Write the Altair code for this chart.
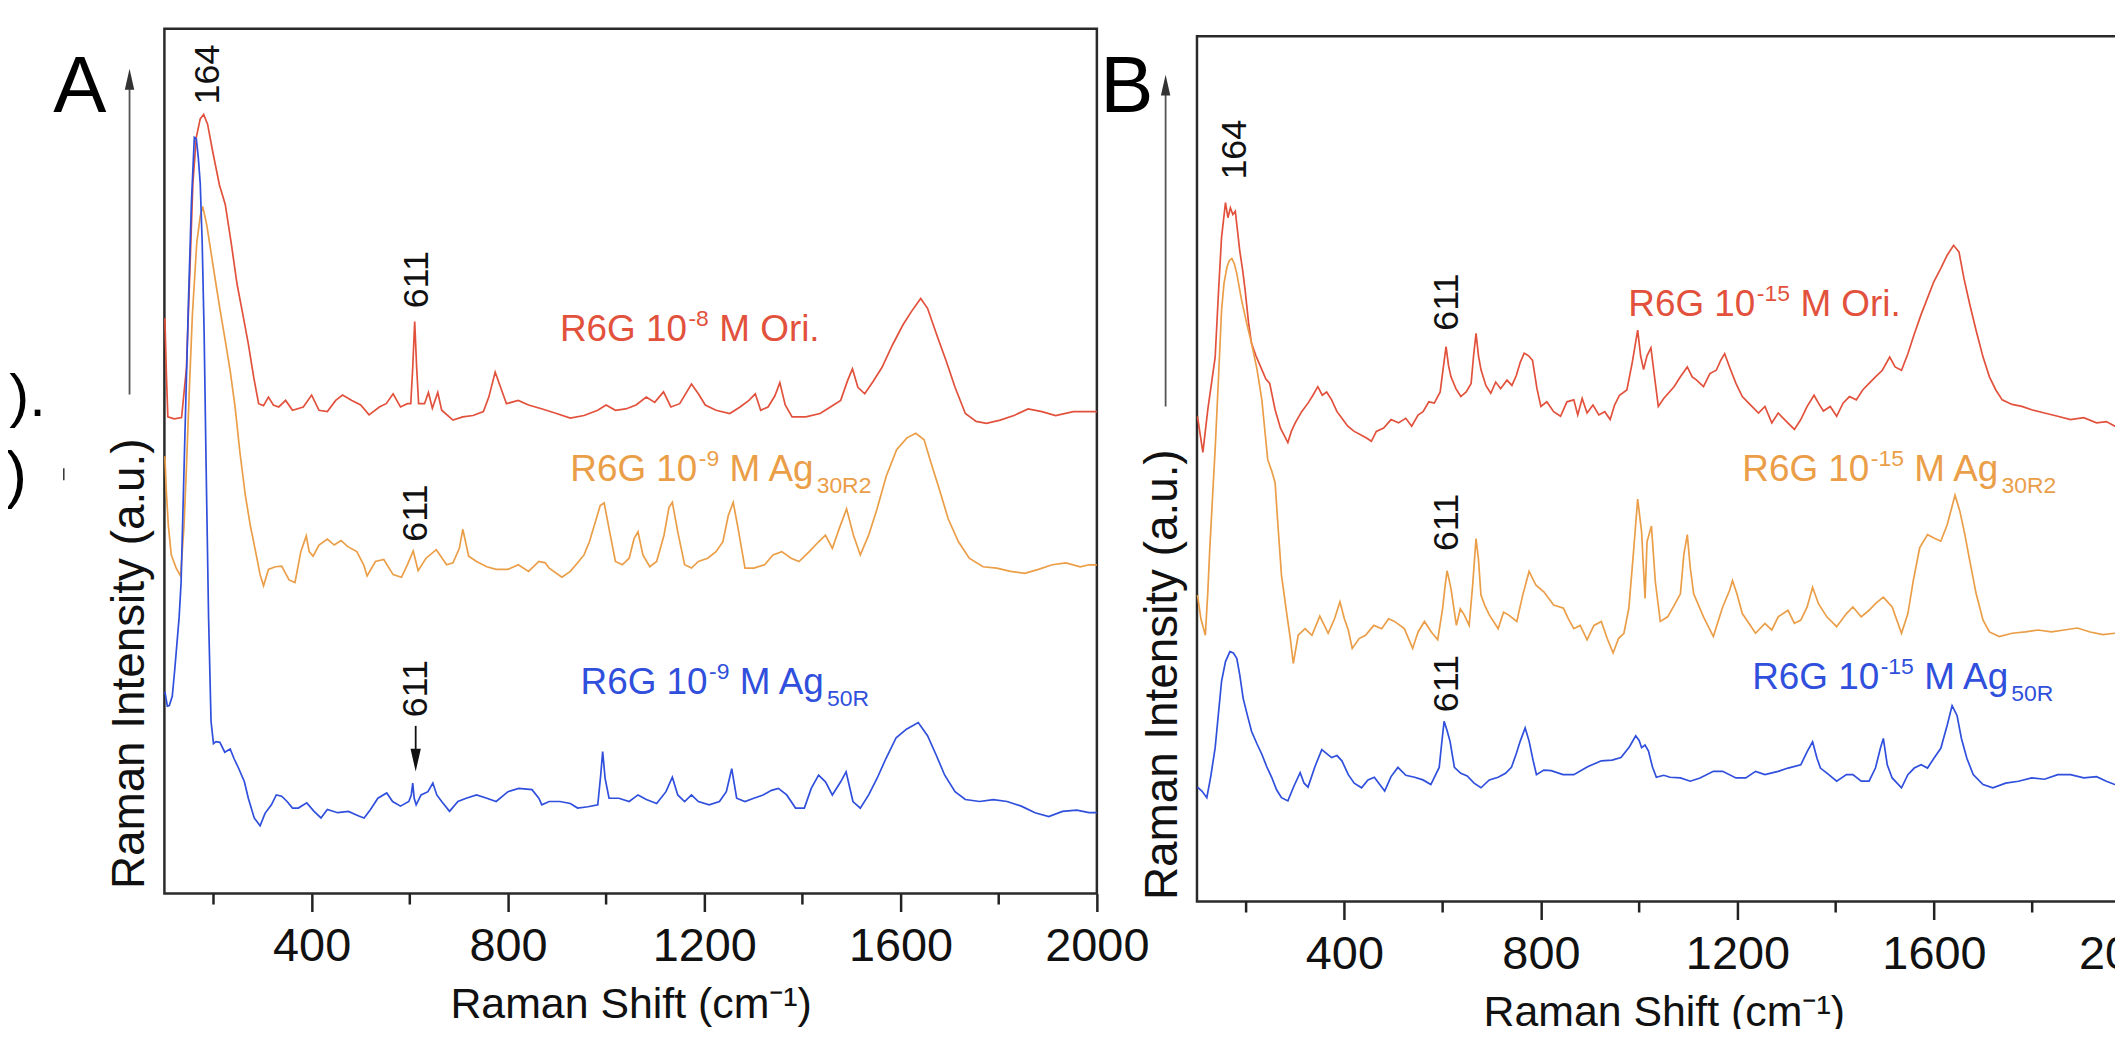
import altair as alt
import pandas as pd

FONT = "Liberation Sans"
INK = "#222222"
FRAME = "#2a2a2a"
SERIES = ["Ori", "Ag30R2", "Ag50R"]
COLORS = ["#e2513c", "#eb9e48", "#2f4fdc"]
X_DOMAIN = [100, 2000]
MAJOR_TICKS = [400, 800, 1200, 1600, 2000]
MINOR_TICKS = [200, 600, 1000, 1400, 1800]

# ---------------- Panel A spectra (Raman shift cm-1, intensity a.u.) ----------------
A_ORI = [(101, 875), (104, 790), (107, 725), (120, 722), (135, 724), (145, 800), (152, 950), (158, 1080),
         (165, 1150), (173, 1178), (180, 1185), (188, 1170), (198, 1130), (212, 1078), (224, 1048), (236, 990),
         (248, 927), (260, 880), (271, 836), (282, 785), (292, 745), (302, 742), (312, 755), (322, 743),
         (333, 740), (347, 750), (361, 735), (383, 740), (400, 758), (415, 735), (432, 733), (449, 750),
         (463, 758), (482, 750), (500, 743), (517, 728), (538, 740), (552, 745), (566, 760), (581, 740),
         (595, 745), (602, 745), (606, 800), (610, 870), (614, 800), (618, 745), (630, 745), (638, 762),
         (646, 738), (657, 762), (665, 735), (688, 720), (708, 725), (729, 727), (750, 733), (761, 755),
         (774, 793), (785, 770), (797, 745), (821, 750), (842, 743), (870, 737), (899, 730), (927, 723),
         (955, 727), (983, 735), (1000, 743), (1019, 735), (1040, 737), (1061, 743), (1082, 755), (1099, 747),
         (1117, 763), (1132, 740), (1150, 745), (1174, 775), (1188, 760), (1202, 743), (1224, 735), (1252, 730),
         (1273, 740), (1291, 750), (1304, 760), (1315, 735), (1330, 740), (1344, 757), (1354, 777), (1365, 743),
         (1379, 725), (1407, 725), (1436, 730), (1457, 740), (1478, 750), (1492, 780), (1502, 798), (1513, 770),
         (1527, 760), (1545, 780), (1562, 800), (1584, 835), (1605, 865), (1622, 885), (1641, 905), (1655, 890),
         (1676, 845), (1693, 810), (1711, 770), (1732, 730), (1754, 718), (1775, 715), (1803, 720), (1831, 727),
         (1860, 737), (1888, 733), (1916, 727), (1952, 733), (1984, 733), (2000, 733)]

A_AG30 = [(101, 665), (104, 610), (108, 560), (114, 515), (124, 495), (133, 483), (140, 560), (145, 650),
          (151, 770), (157, 880), (166, 990), (173, 1030), (178, 1045), (186, 1018), (195, 975), (205, 927),
          (214, 885), (224, 841), (234, 795), (244, 740), (254, 670), (265, 605), (275, 560), (285, 523),
          (295, 485), (302, 468), (312, 493), (326, 497), (339, 498), (354, 477), (366, 473), (378, 520),
          (389, 544), (395, 520), (403, 513), (415, 530), (432, 539), (446, 530), (460, 537), (473, 528),
          (492, 520), (506, 500), (513, 483), (530, 505), (547, 508), (566, 485), (583, 481), (595, 500),
          (607, 521), (617, 491), (633, 510), (654, 523), (675, 500), (688, 503), (701, 525), (708, 554),
          (720, 513), (736, 505), (757, 497), (776, 493), (800, 493), (821, 500), (842, 490), (863, 505),
          (876, 503), (884, 495), (910, 481), (927, 490), (942, 503), (955, 515), (966, 535), (980, 570),
          (988, 590), (996, 594), (1006, 555), (1019, 505), (1033, 500), (1047, 510), (1057, 540), (1065, 550),
          (1075, 515), (1089, 497), (1103, 505), (1118, 545), (1128, 587), (1135, 595), (1146, 550), (1160, 500),
          (1174, 495), (1188, 505), (1207, 510), (1224, 520), (1238, 535), (1249, 575), (1259, 595), (1269, 555),
          (1283, 495), (1301, 495), (1323, 500), (1340, 515), (1358, 520), (1377, 510), (1393, 505), (1414, 520),
          (1433, 535), (1447, 545), (1461, 525), (1475, 555), (1490, 585), (1504, 545), (1518, 515), (1535, 545),
          (1552, 585), (1571, 635), (1592, 675), (1613, 693), (1631, 700), (1648, 690), (1662, 655), (1679, 615),
          (1697, 570), (1718, 535), (1740, 510), (1768, 497), (1796, 495), (1824, 490), (1853, 487), (1881, 493),
          (1909, 500), (1937, 503), (1966, 497), (1984, 500), (2000, 500)]

A_AG50 = [(101, 307), (106, 285), (110, 286), (116, 300), (121, 340), (130, 420), (134, 473), (141, 675),
          (149, 900), (155, 1050), (161, 1150), (165, 1148), (169, 1120), (173, 1080), (177, 990), (181, 850),
          (185, 650), (190, 420), (195, 262), (200, 228), (205, 231), (213, 230), (223, 215), (234, 220),
          (242, 205), (251, 191), (263, 170), (271, 145), (283, 115), (295, 103), (305, 122), (318, 135),
          (328, 150), (339, 148), (350, 140), (361, 130), (373, 130), (390, 138), (405, 125), (419, 115),
          (432, 128), (453, 123), (475, 125), (496, 118), (507, 115), (520, 128), (535, 145), (553, 153),
          (565, 140), (581, 133), (598, 140), (603, 150), (606, 168), (609, 145), (613, 135), (623, 150),
          (637, 155), (647, 168), (655, 150), (665, 140), (681, 125), (698, 140), (715, 145), (736, 150),
          (757, 145), (776, 140), (800, 155), (822, 160), (849, 158), (863, 145), (869, 135), (884, 140),
          (906, 140), (927, 137), (942, 130), (963, 132), (983, 135), (989, 180), (993, 216), (998, 175),
          (1006, 145), (1026, 145), (1047, 140), (1065, 150), (1082, 143), (1103, 137), (1122, 155), (1135, 177),
          (1146, 150), (1160, 140), (1174, 150), (1188, 140), (1210, 135), (1231, 140), (1245, 155), (1256, 190),
          (1266, 145), (1283, 140), (1301, 145), (1320, 150), (1337, 157), (1351, 160), (1368, 150), (1386, 130),
          (1404, 130), (1418, 160), (1433, 180), (1447, 170), (1461, 150), (1478, 170), (1489, 185), (1503, 140),
          (1518, 130), (1535, 150), (1552, 175), (1570, 205), (1591, 237), (1612, 250), (1636, 260), (1655, 240),
          (1673, 210), (1690, 180), (1711, 155), (1732, 143), (1761, 140), (1789, 143), (1817, 140), (1846, 133),
          (1874, 123), (1902, 117), (1930, 125), (1959, 127), (1984, 123), (2000, 123)]

# ---------------- Panel B spectra ----------------
B_ORI = [(101, 738), (112, 683), (122, 748), (137, 828), (144, 930), (150, 1010), (158, 1063), (163, 1040),
         (168, 1055), (173, 1045), (178, 1050), (187, 990), (193, 960), (198, 930), (205, 880), (211, 849),
         (220, 830), (232, 809), (240, 795), (248, 788), (259, 748), (270, 720), (285, 698), (292, 715),
         (300, 728), (313, 745), (326, 758), (336, 770), (346, 783), (355, 770), (364, 775), (374, 763),
         (385, 745), (395, 735), (407, 723), (420, 715), (433, 710), (445, 705), (455, 700), (465, 715),
         (480, 720), (495, 733), (510, 728), (525, 735), (537, 723), (550, 740), (560, 745), (572, 760),
         (583, 758), (595, 775), (601, 810), (607, 844), (612, 815), (617, 798), (627, 780), (637, 768),
         (648, 775), (658, 788), (663, 830), (668, 864), (673, 830), (678, 809), (688, 785), (698, 773),
         (708, 790), (718, 780), (731, 793), (741, 785), (750, 800), (758, 820), (766, 834), (775, 830),
         (783, 823), (792, 780), (800, 753), (812, 760), (826, 745), (840, 738), (853, 760), (867, 763),
         (875, 740), (884, 765), (894, 743), (906, 755), (918, 740), (930, 745), (941, 733), (950, 755),
         (960, 770), (975, 778), (986, 820), (997, 869), (1003, 830), (1009, 809), (1016, 830), (1024, 842),
         (1031, 800), (1039, 753), (1050, 765), (1071, 783), (1084, 798), (1098, 813), (1108, 798), (1117, 793),
         (1131, 783), (1144, 803), (1157, 808), (1166, 823), (1174, 833), (1184, 813), (1197, 788), (1210, 768),
         (1223, 758), (1243, 743), (1256, 753), (1270, 728), (1283, 743), (1296, 733), (1316, 718), (1329, 733),
         (1342, 753), (1356, 770), (1365, 758), (1375, 746), (1389, 753), (1402, 738), (1415, 758), (1428, 768),
         (1442, 763), (1455, 778), (1468, 788), (1481, 798), (1495, 808), (1510, 828), (1521, 813), (1534, 808),
         (1547, 833), (1560, 863), (1574, 893), (1587, 918), (1600, 943), (1614, 963), (1627, 983), (1640, 998),
         (1651, 988), (1661, 948), (1673, 908), (1686, 868), (1700, 828), (1713, 798), (1726, 778), (1739, 763),
         (1759, 756), (1779, 753), (1799, 748), (1825, 743), (1852, 738), (1878, 733), (1905, 736), (1931, 728),
         (1951, 730), (1968, 723), (2000, 723)]

B_AG30 = [(101, 466), (108, 430), (117, 405), (122, 470), (126, 536), (132, 620), (137, 688), (144, 800),
          (150, 899), (155, 940), (161, 965), (166, 975), (171, 978), (176, 970), (181, 955), (191, 914),
          (201, 880), (211, 849), (222, 810), (232, 763), (244, 672), (252, 655), (259, 637), (265, 570),
          (272, 496), (283, 436), (290, 400), (296, 362), (306, 405), (320, 415), (334, 405), (350, 434),
          (367, 408), (380, 430), (391, 456), (400, 430), (408, 413), (416, 385), (430, 400), (443, 405),
          (460, 420), (476, 415), (490, 430), (502, 426), (522, 415), (539, 385), (550, 410), (563, 426),
          (577, 410), (590, 398), (600, 446), (605, 480), (609, 503), (613, 490), (617, 476), (628, 420),
          (636, 445), (644, 436), (654, 420), (661, 480), (668, 552), (673, 520), (678, 466), (686, 450),
          (695, 436), (713, 415), (724, 440), (734, 436), (751, 426), (763, 466), (776, 502), (790, 481),
          (806, 471), (826, 451), (846, 446), (856, 430), (867, 415), (880, 420), (894, 398), (908, 420),
          (923, 426), (935, 400), (947, 378), (958, 400), (969, 408), (979, 446), (989, 536), (997, 612),
          (1005, 562), (1012, 461), (1016, 547), (1025, 571), (1033, 486), (1043, 426), (1058, 433), (1071, 450),
          (1084, 468), (1091, 528), (1098, 558), (1104, 508), (1111, 468), (1131, 433), (1151, 403), (1170, 448),
          (1184, 473), (1190, 488), (1199, 468), (1210, 438), (1237, 408), (1256, 423), (1270, 413), (1283, 433),
          (1303, 443), (1316, 423), (1329, 428), (1342, 448), (1353, 478), (1365, 453), (1382, 433), (1402, 418),
          (1422, 438), (1435, 448), (1452, 433), (1468, 443), (1481, 453), (1497, 463), (1515, 448), (1534, 408),
          (1547, 438), (1558, 488), (1571, 538), (1587, 558), (1600, 553), (1614, 548), (1627, 573), (1643, 618),
          (1653, 593), (1663, 558), (1673, 518), (1686, 468), (1700, 428), (1713, 410), (1733, 403), (1759, 408),
          (1786, 410), (1812, 413), (1839, 410), (1865, 413), (1892, 416), (1918, 410), (1944, 406), (1968, 408),
          (2000, 408)]

B_AG50 = [(101, 174), (110, 168), (120, 158), (128, 190), (137, 234), (150, 335), (158, 365), (167, 380),
          (174, 378), (181, 370), (187, 345), (194, 309), (202, 285), (211, 259), (222, 240), (232, 224),
          (242, 205), (252, 189), (262, 170), (272, 158), (285, 153), (297, 175), (310, 196), (318, 180),
          (326, 174), (340, 205), (354, 231), (364, 225), (374, 219), (385, 222), (395, 214), (408, 193),
          (420, 180), (435, 173), (448, 185), (461, 189), (472, 178), (482, 168), (495, 190), (509, 204),
          (525, 192), (543, 189), (560, 185), (576, 178), (593, 204), (598, 240), (603, 274), (609, 260),
          (615, 244), (624, 204), (637, 195), (650, 191), (664, 180), (678, 173), (695, 185), (713, 189),
          (728, 195), (740, 204), (750, 225), (758, 244), (768, 264), (776, 244), (784, 215), (791, 193),
          (806, 200), (821, 199), (845, 193), (867, 193), (895, 205), (923, 214), (945, 215), (963, 219),
          (980, 235), (993, 252), (1000, 245), (1005, 234), (1012, 238), (1019, 229), (1027, 205), (1035, 189),
          (1050, 192), (1063, 189), (1084, 188), (1104, 183), (1124, 188), (1151, 198), (1170, 198), (1197, 188),
          (1217, 188), (1237, 198), (1256, 193), (1283, 198), (1303, 203), (1329, 208), (1342, 228), (1353, 243),
          (1362, 218), (1369, 203), (1386, 193), (1402, 183), (1422, 193), (1435, 193), (1452, 183), (1468, 183),
          (1481, 203), (1491, 233), (1497, 248), (1505, 208), (1515, 188), (1534, 173), (1547, 193), (1560, 203),
          (1574, 208), (1587, 203), (1600, 218), (1614, 233), (1627, 268), (1637, 298), (1647, 283), (1656, 248),
          (1667, 218), (1680, 193), (1700, 178), (1720, 173), (1746, 180), (1772, 183), (1799, 188), (1825, 186),
          (1852, 193), (1878, 193), (1905, 188), (1931, 190), (1951, 183), (1968, 178), (2000, 178)]

# ---------------- annotations ----------------
A_PEAK_X = [188, 615, 612, 612]
A_PEAK_Y = [1200, 890, 535, 268]
A_PEAK_T = ["164", "611", "611", "611"]
B_PEAK_X = [178, 608, 608, 608]
B_PEAK_Y = [1098, 868, 533, 288]
B_PEAK_T = ["164", "611", "611", "611"]

A_LAB_X = [906, 927, 948]
A_LAB_Y = [840, 627, 303]
A_SUP = ["-8", "-9", "-9"]
B_LAB_X = [978, 1210, 1230]
B_LAB_Y = [890, 640, 323]
B_SUP = ["-15", "-15", "-15"]
LAB_MAIN = ["R6G 10", "R6G 10", "R6G 10"]
LAB_TAIL = ["M Ori.", "M Ag", "M Ag"]
LAB_SUB = ["", "30R2", "50R"]

A_ARROW_X = [612]
A_ARROW_Y = [255]
A_ARROW_Y2 = [216]
A_ARROW_HEAD = [203]

A_YMAX = 1315
B_YMAX = 1316

# layout of the page (pixels inside the drawing)
VIEW_W, VIEW_H, PAD_BOTTOM = 2115, 887, 134
A_XRANGE, A_YRANGE = [157, 1093], [887, 19]
B_XRANGE, B_YRANGE = [1193.5, 2130.5], [895, 26.4]

ONE = pd.DataFrame({"k": [0]})


def curves(ori, ag30, ag50):
    rows = []
    for name, pts in zip(SERIES, [ori, ag30, ag50]):
        for x, y in pts:
            rows.append({"series": name, "x": x, "y": y})
    return pd.DataFrame(rows)


def deco_rule(x, y, y2, color="#444444", width=1.8):
    return alt.Chart(ONE).mark_rule(color=color, strokeWidth=width).encode(
        x=alt.value(x), y=alt.value(y), y2=alt.value(y2))


def deco_text(text, x, y, size, align="center"):
    return alt.Chart(ONE).mark_text(text=text, font=FONT, fontSize=size, align=align,
                                    baseline="alphabetic", color="#000000").encode(
        x=alt.value(x), y=alt.value(y))


def panel(df, ymax, xr, yr, axis_offset, xtitle_y, title_x, title_y, peaks, labels, sup_w,
          letter, letter_xy, arrow_x, arrow_tip, line_bottom, extra=None):
    xs = alt.Scale(domain=X_DOMAIN, range=xr, nice=False, zero=False)
    ys = alt.Scale(domain=[0, ymax], range=yr, nice=False, zero=False)
    cs = alt.Scale(domain=SERIES, range=COLORS)
    xaxis = alt.Axis(orient="bottom", offset=axis_offset, values=MAJOR_TICKS, format="d",
                     tickSize=18, tickWidth=2.5, tickColor=INK, domain=False, grid=False,
                     labelFont=FONT, labelFontSize=47, labelColor="#111111", labelPadding=49,
                     labelBaseline="alphabetic", labelFlush=False, labelOverlap=False,
                     title="Raman Shift (cm⁻¹)", titleFont=FONT, titleFontSize=43,
                     titleFontWeight="normal", titleColor="#111111", titleY=xtitle_y,
                     titleBaseline="alphabetic")
    yaxis = alt.Axis(orient="left", labels=False, ticks=False, domain=False, grid=False,
                     title="Raman Intensity (a.u.)", titleFont=FONT, titleFontSize=46,
                     titleFontWeight="normal", titleColor="#111111", titleAngle=270,
                     titleX=title_x, titleY=title_y, titleAlign="left", titleBaseline="alphabetic")

    lines = alt.Chart(df).mark_line(strokeWidth=1.7).encode(
        x=alt.X("x:Q", scale=xs, axis=xaxis),
        y=alt.Y("y:Q", scale=ys, axis=yaxis),
        color=alt.Color("series:N", scale=cs, legend=None),
    )
    frame = alt.Chart(pd.DataFrame({"x": [X_DOMAIN[0]], "x2": [X_DOMAIN[1]], "y": [0], "y2": [ymax]})
                      ).mark_rect(fillOpacity=0, stroke=FRAME, strokeWidth=2.5).encode(
        x=alt.X("x:Q", scale=xs), x2="x2:Q", y=alt.Y("y:Q", scale=ys), y2="y2:Q")
    bottom = yr[0]
    minor = alt.Chart(pd.DataFrame({"x": MINOR_TICKS})).mark_rule(color=INK, strokeWidth=2.5).encode(
        x=alt.X("x:Q", scale=xs), y=alt.value(bottom), y2=alt.value(bottom + 11))
    pk = alt.Chart(peaks).mark_text(angle=270, align="left", baseline="middle", font=FONT,
                                    fontSize=36, color="#111111").encode(
        x=alt.X("x:Q", scale=xs), y=alt.Y("y:Q", scale=ys), text="t:N")

    def lab(col, dx, dy, size):
        return alt.Chart(labels).mark_text(align="left", baseline="alphabetic", font=FONT,
                                           fontSize=size, dx=dx, dy=dy).encode(
            x=alt.X("x:Q", scale=xs), y=alt.Y("y:Q", scale=ys), text=f"{col}:N",
            color=alt.Color("series:N", scale=cs, legend=None))

    main_w = 127.5
    sup_dx = main_w + 1.5
    tail_dx = sup_dx + sup_w + 10.5
    sub_dx = tail_dx + 86.4 + 1
    labs = [lab("main", 0, 0, 37), lab("sup", sup_dx, -15, 23), lab("tail", tail_dx, 0, 37),
            lab("sub", sub_dx, 12, 23)]

    head_y = arrow_tip + 10.5
    yarrow = deco_rule(arrow_x, line_bottom, head_y + 6, color="#555555", width=1.8)
    yhead = alt.Chart(ONE).mark_point(shape="M0,-1L0.45,1L-0.45,1Z", filled=True, size=441,
                                      color="#333333", opacity=1, strokeWidth=0).encode(
        x=alt.value(arrow_x), y=alt.value(head_y))
    let = deco_text(letter, letter_xy[0], letter_xy[1], 80)

    layers = [frame, lines, minor, pk] + labs + [yarrow, yhead, let]
    if extra:
        layers += [e(xs, ys) for e in extra]
    return alt.layer(*layers)


def small_arrow(xs, ys):
    d = pd.DataFrame({"x": A_ARROW_X, "y": A_ARROW_Y, "y2": A_ARROW_Y2})
    return alt.Chart(d).mark_rule(color="#111111", strokeWidth=1.8).encode(
        x=alt.X("x:Q", scale=xs), y=alt.Y("y:Q", scale=ys), y2="y2:Q")


def small_head(xs, ys):
    d = pd.DataFrame({"x": A_ARROW_X, "y": A_ARROW_HEAD})
    return alt.Chart(d).mark_point(shape="M-0.45,-1L0.45,-1L0,1Z", filled=True, size=529,
                                   color="#111111", opacity=1, strokeWidth=0).encode(
        x=alt.X("x:Q", scale=xs), y=alt.Y("y:Q", scale=ys))


def frag1(xs, ys):
    return deco_text(").", 38, 408, 60, align="right")


def frag2(xs, ys):
    return deco_text(")", 19, 488, 64, align="right")


def frag3(xs, ys):
    return deco_rule(56, 460, 472, color="#333333", width=1.5)


peaks_a = pd.DataFrame({"x": A_PEAK_X, "y": A_PEAK_Y, "t": A_PEAK_T})
peaks_b = pd.DataFrame({"x": B_PEAK_X, "y": B_PEAK_Y, "t": B_PEAK_T})
labels_a = pd.DataFrame({"series": SERIES, "x": A_LAB_X, "y": A_LAB_Y, "main": LAB_MAIN,
                         "sup": A_SUP, "tail": LAB_TAIL, "sub": LAB_SUB})
labels_b = pd.DataFrame({"series": SERIES, "x": B_LAB_X, "y": B_LAB_Y, "main": LAB_MAIN,
                         "sup": B_SUP, "tail": LAB_TAIL, "sub": LAB_SUB})

pa = panel(curves(A_ORI, A_AG30, A_AG50), A_YMAX, A_XRANGE, A_YRANGE, 0, 124, 136, 882,
           peaks_a, labels_a, 20.4, "A", (72, 102), 122, 59, 386,
           extra=[small_arrow, small_head, frag1, frag2, frag3])
pb = panel(curves(B_ORI, B_AG30, B_AG50), B_YMAX, B_XRANGE, B_YRANGE, 8, 124, 1172.5, 893,
           peaks_b, labels_b, 33.2, "B", (1123, 102), 1162, 65, 398)

chart = alt.layer(pa, pb).resolve_scale(x="independent", y="independent").resolve_axis(
    x="independent", y="independent").properties(
    width=VIEW_W, height=VIEW_H,
    padding={"left": 0, "top": 0, "right": 0, "bottom": PAD_BOTTOM},
    autosize=alt.AutoSizeParams(type="none"),
).configure_view(stroke="transparent")

chart.save("out.html", embed_options={"renderer": "svg", "actions": False})
